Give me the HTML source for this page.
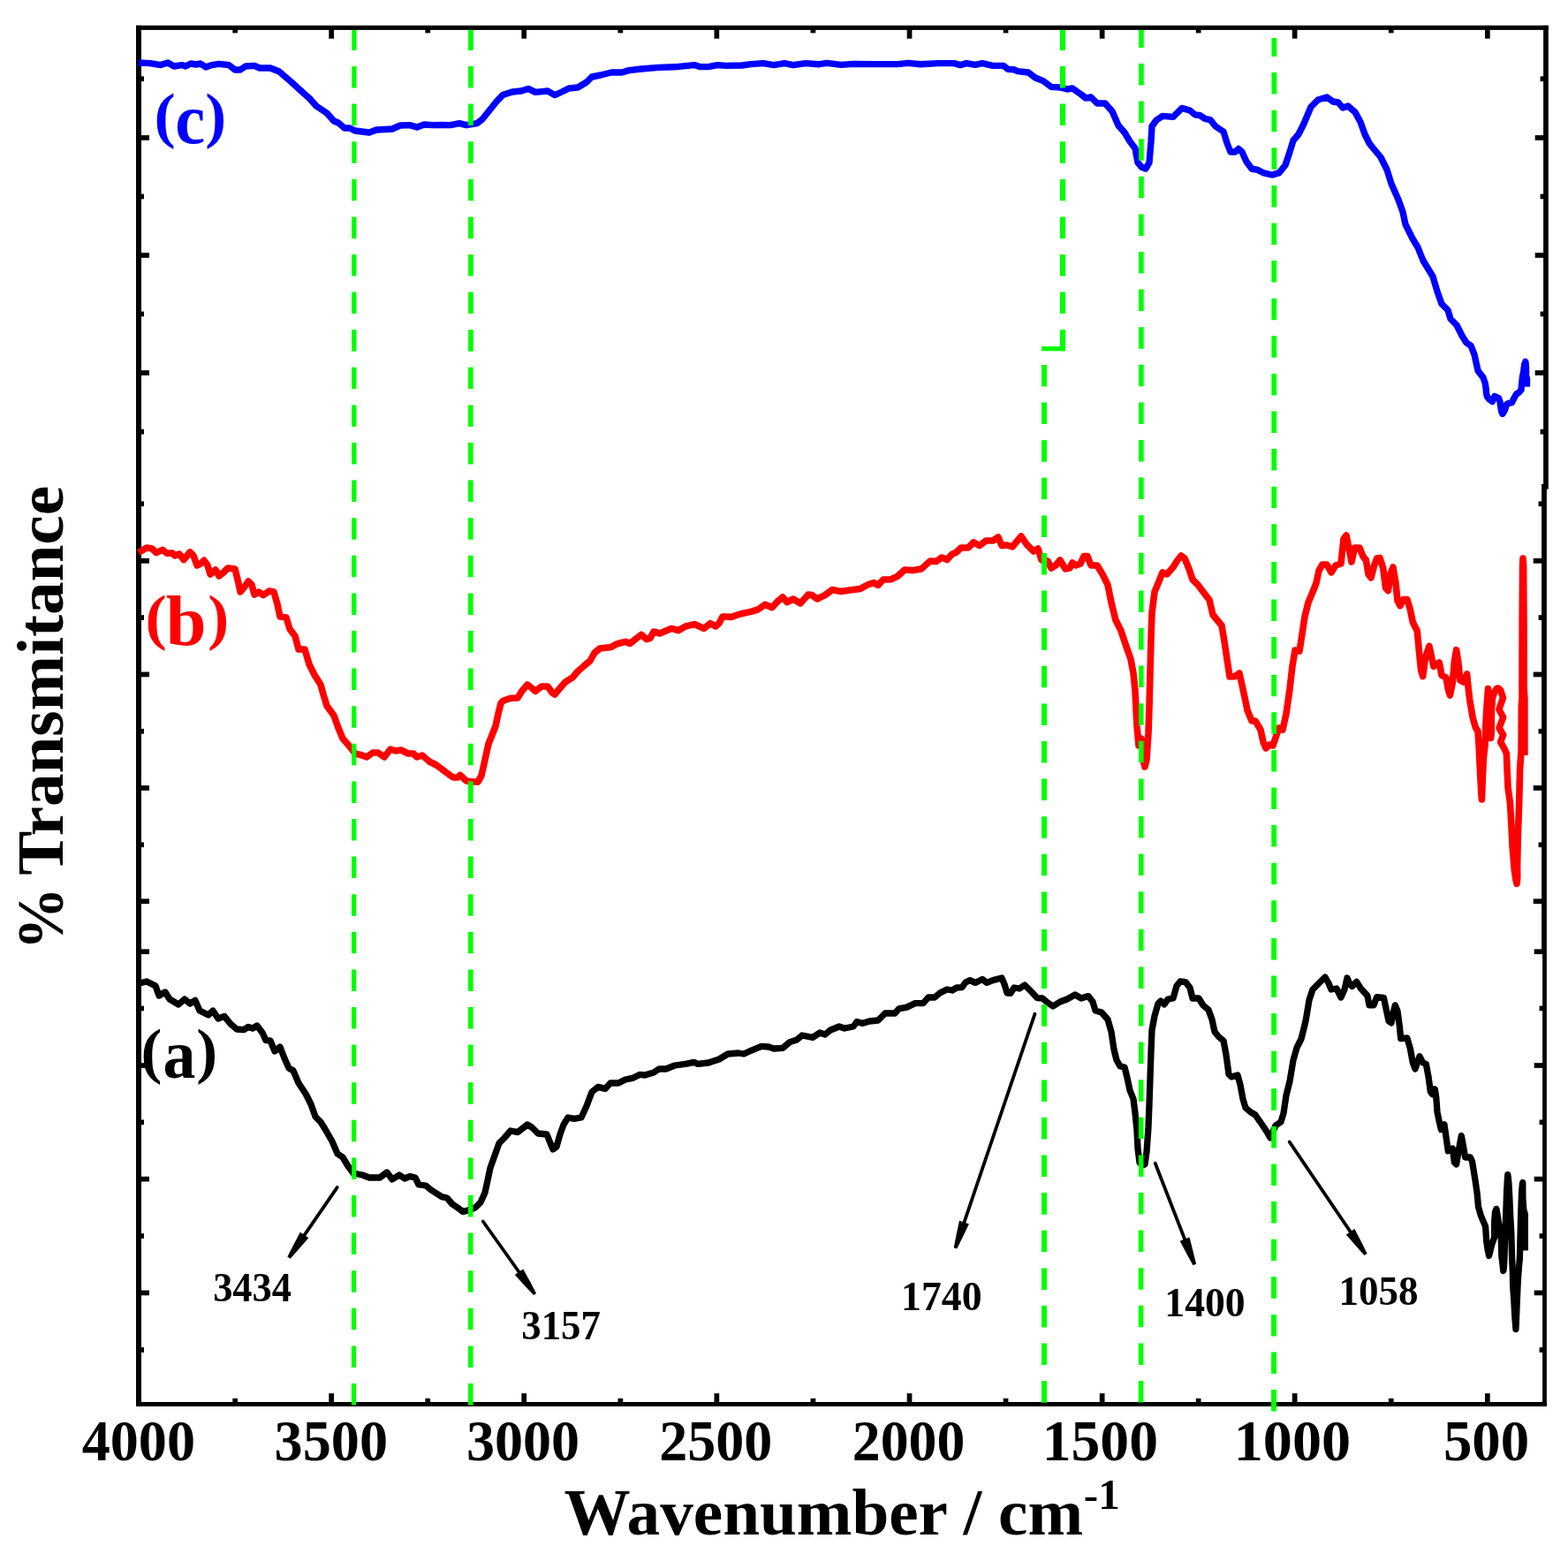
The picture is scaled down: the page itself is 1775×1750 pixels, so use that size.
<!DOCTYPE html>
<html lang="en"><head><meta charset="utf-8"><title>FTIR spectra</title>
<style>html,body{margin:0;padding:0;background:#fff}body{width:1775px;height:1750px;overflow:hidden}svg{display:block}text{font-family:"Liberation Serif","DejaVu Serif",serif;font-weight:bold}</style></head><body>
<svg width="1775" height="1750" viewBox="0 0 1775 1750">
<rect x="0" y="0" width="1775" height="1750" fill="#fff"/>
<g id="frame" fill="#000">
<rect x="154" y="28.8" width="6" height="1563.2"/>
<rect x="154" y="28.8" width="1598.8" height="5.1"/>
<rect x="154" y="1587" width="1596.9" height="5"/>
<rect x="1747.1" y="28.8" width="5.7" height="524.9"/>
<rect x="1745.1" y="548" width="5.8" height="527"/>
<rect x="1746.1" y="1075" width="4.8" height="517"/>
</g>
<g id="ticks" fill="#000">
<rect x="372.3" y="32.9" width="5.7" height="10.8"/>
<rect x="372.3" y="1577.2" width="5.7" height="10.8"/>
<rect x="590.4" y="32.9" width="5.7" height="10.8"/>
<rect x="590.4" y="1577.2" width="5.7" height="10.8"/>
<rect x="808.5" y="32.9" width="5.7" height="10.8"/>
<rect x="808.5" y="1577.2" width="5.7" height="10.8"/>
<rect x="1026.7" y="32.9" width="5.7" height="10.8"/>
<rect x="1026.7" y="1577.2" width="5.7" height="10.8"/>
<rect x="1244.8" y="32.9" width="5.7" height="10.8"/>
<rect x="1244.8" y="1577.2" width="5.7" height="10.8"/>
<rect x="1462.8" y="32.9" width="5.7" height="10.8"/>
<rect x="1462.8" y="1577.2" width="5.7" height="10.8"/>
<rect x="1681" y="32.9" width="5.7" height="10.8"/>
<rect x="1681" y="1577.2" width="5.7" height="10.8"/>
<rect x="263.3" y="32.9" width="5.7" height="4.5"/>
<rect x="263.3" y="1582.9" width="5.7" height="5.1"/>
<rect x="481.4" y="32.9" width="5.7" height="4.5"/>
<rect x="481.4" y="1582.9" width="5.7" height="5.1"/>
<rect x="699.5" y="32.9" width="5.7" height="4.5"/>
<rect x="699.5" y="1582.9" width="5.7" height="5.1"/>
<rect x="917.6" y="32.9" width="5.7" height="4.5"/>
<rect x="917.6" y="1582.9" width="5.7" height="5.1"/>
<rect x="1135.7" y="32.9" width="5.7" height="4.5"/>
<rect x="1135.7" y="1582.9" width="5.7" height="5.1"/>
<rect x="1353.8" y="32.9" width="5.7" height="4.5"/>
<rect x="1353.8" y="1582.9" width="5.7" height="5.1"/>
<rect x="1571.9" y="32.9" width="5.7" height="4.5"/>
<rect x="1571.9" y="1582.9" width="5.7" height="5.1"/>
<rect x="159" y="153.1" width="10" height="5.7"/>
<rect x="1737.7" y="153.1" width="10.4" height="5.7"/>
<rect x="159" y="286.1" width="10" height="5.7"/>
<rect x="1737.7" y="286.1" width="10.4" height="5.7"/>
<rect x="159" y="419.2" width="10" height="5.7"/>
<rect x="1737.7" y="419.2" width="10.4" height="5.7"/>
<rect x="159" y="632" width="10" height="5.7"/>
<rect x="1735.7" y="632" width="10.4" height="5.7"/>
<rect x="159" y="760.6" width="10" height="5.7"/>
<rect x="1735.7" y="760.6" width="10.4" height="5.7"/>
<rect x="159" y="889.1" width="10" height="5.7"/>
<rect x="1735.7" y="889.1" width="10.4" height="5.7"/>
<rect x="159" y="1017.4" width="10" height="5.7"/>
<rect x="1735.7" y="1017.4" width="10.4" height="5.7"/>
<rect x="159" y="1074.4" width="10" height="5.7"/>
<rect x="1736.7" y="1074.4" width="10.4" height="5.7"/>
<rect x="159" y="1203.2" width="10" height="5.7"/>
<rect x="1736.7" y="1203.2" width="10.4" height="5.7"/>
<rect x="159" y="1331.8" width="10" height="5.7"/>
<rect x="1736.7" y="1331.8" width="10.4" height="5.7"/>
<rect x="159" y="1460.6" width="10" height="5.7"/>
<rect x="1736.7" y="1460.6" width="10.4" height="5.7"/>
<rect x="159" y="86.4" width="4" height="5.7"/>
<rect x="1743.6" y="86.4" width="4.5" height="5.7"/>
<rect x="159" y="219.6" width="4" height="5.7"/>
<rect x="1743.6" y="219.6" width="4.5" height="5.7"/>
<rect x="159" y="352.6" width="4" height="5.7"/>
<rect x="1743.6" y="352.6" width="4.5" height="5.7"/>
<rect x="159" y="485.9" width="4" height="5.7"/>
<rect x="1743.6" y="485.9" width="4.5" height="5.7"/>
<rect x="159" y="567.5" width="4" height="5.7"/>
<rect x="1741.6" y="567.5" width="4.5" height="5.7"/>
<rect x="159" y="696.2" width="4" height="5.7"/>
<rect x="1741.6" y="696.2" width="4.5" height="5.7"/>
<rect x="159" y="824.9" width="4" height="5.7"/>
<rect x="1741.6" y="824.9" width="4.5" height="5.7"/>
<rect x="159" y="953.4" width="4" height="5.7"/>
<rect x="1741.6" y="953.4" width="4.5" height="5.7"/>
<rect x="159" y="1138.6" width="4" height="5.7"/>
<rect x="1742.6" y="1138.6" width="4.5" height="5.7"/>
<rect x="159" y="1267.5" width="4" height="5.7"/>
<rect x="1742.6" y="1267.5" width="4.5" height="5.7"/>
<rect x="159" y="1396.2" width="4" height="5.7"/>
<rect x="1742.6" y="1396.2" width="4.5" height="5.7"/>
<rect x="159" y="1525.2" width="4" height="5.7"/>
<rect x="1742.6" y="1525.2" width="4.5" height="5.7"/>
</g>
<g id="curves">
<polyline points="156.9,71 170,71.6 182,73.6 190,71 197,75 206,73.6 210,75 216,72 222,73 227,72 233,76 240,73.6 248,72.4 259,73.6 266,79 272,79 278,75 288,74.4 294,77 306,77 316,81 330,93 342,104 350,111 358,120 370,128 378,137 383,139 390,145 396,145 402,148 418,150 426,147 444,146 453,142 464,141.6 472,144 480,141 490,141.6 500,141.4 510,141.6 520,139.6 528,141.6 540,139.6 546,135 554,125 562,115 569,107.6 580,104 590,103 598,100.4 606,104.4 620,103 628,107.6 636,104 644,100 654,99 664,93 670,87 680,85 692,82 704,82 712,79.6 726,78 746,76.4 766,75.6 786,73.6 792,75.6 802,75.6 812,73.6 822,74.4 840,74 850,72.6 864,71.6 876,73.6 888,71.6 898,73.6 912,71.6 926,72.8 936,71.4 952,73.4 966,72.4 990,72.6 1016,72.6 1028,71.4 1042,72.8 1062,71.6 1080,71.6 1087,73.6 1094,71.6 1104,73.4 1112,71.6 1124,74.4 1136,74.4 1141,78.4 1148,78.8 1152,80.6 1164,82 1172,88 1181,91.6 1190,98.4 1200,99 1208,101 1214,100 1224,107 1229,111 1235,110 1242,117 1251,117 1259,126 1266,142 1273,150 1279,160 1285,168 1288,184 1292,189 1297,191 1301,184 1303,160 1304,143 1309,136 1316,131.4 1328,132.4 1338,122.4 1347,125 1353,130 1358,130.4 1364,134.4 1370,135.6 1376,143 1385,149 1389,162 1393,172 1398,172 1402,168.4 1406,172 1411,183 1417,191 1424,192.4 1430,195.6 1440,198 1448,195.6 1455,187 1460,172 1464,159 1470,152 1476,140 1484,121 1492,113 1502,110 1509,115 1515,116 1520,122 1526,120 1534,127 1540,138 1545,152 1550,162 1553,166 1563,178 1570,192 1575,208 1583,226 1588,240 1591,254 1599,270 1605,280 1611,295 1622,313 1627,330 1632,344 1639,351 1642,361 1649,368 1655,380 1660,388 1665.1,391.4 1669.1,401.7 1671.1,411.1 1673.1,419.7 1676.6,424.3 1678.9,427.1 1681.1,433.4 1682,438.6 1682.6,445.4 1683.7,449.4 1685.7,451.7 1689.4,454.5 1692,448.6 1696.6,450.6 1698,454.6 1698.9,460.9 1699.7,466 1700.9,468.5 1703.4,464.3 1705.7,457.4 1708.6,456.3 1711.4,455.7 1714.3,450 1716.6,446 1719.4,444.3 1722,441.4 1722.6,434.6 1723.4,427.1 1724.6,421.1 1725.7,412.3 1726.9,409.4 1727.5,415 1727.6,427 1728.5,428 1728.5,437.8" fill="none" stroke="#0000ff" stroke-width="7.4" stroke-linejoin="round" stroke-linecap="butt"/>
<polyline points="156.9,625.5 166,620 172,621 177,625.6 184,622.4 189,626.4 195,626 198,629 203,627 208,633.6 215,625 219,629 223,640 227,638 231,634.4 235,640 238,650 244,645 248,652 253,648 258,643 266,644 270,660 272,670 277,664 281,658 285,662 288,673 293,670 298,673.6 305,669 310,670 314,684 317,698 324,699 328,712 334,720 338,735 345,735 350,752 356,764 363,775 366,786 370,799 378,810 383,824 388,836 395,844 402,853 410,855 415,857 422,852 428,852 435,857 442,848 448,850 454,849 462,853 468,853 472,857 478,855 486,862 494,866 500,870.5 506,875 513,880 518,880 521,877.4 528,884 535,885 541,885 545,878 549,860 553,842 557,832 561,822 564,808 567,796 570,793 578,790.4 586,790 591,782 597,775 601,778 606,782.4 613,777 620,777 625,784 628,786 633,780 640,772 648,767 654,760 662,753 668,748 673,739 679,734 692,732.4 698,729 708,726.4 713,728.4 720,723 726,718.4 732,723.6 736,722.4 740,715 747,717 760,711.4 768,713.6 776,709 786,706.6 797,711.4 804,705.6 810,709 814,705.6 818,698 828,698.4 838,695 850,692.4 858,690 866,684.4 874,687.6 880,681 886,676 891,681.6 898,678 906,683 915,673 919,673.6 925,678 934,673.6 942,667.6 952,669.6 962,668 974,666.4 982,662 989,659.6 994,662.4 1000,656 1008,656 1016,652.4 1024,645 1034,645.6 1043,644 1053,635 1060,635.6 1066,631 1072,633.6 1078,627 1082,625.6 1088,620 1096,620 1102,614 1109,617.6 1116,612 1124,612 1130,608 1134,617.6 1140,617 1146,619 1151,613 1156,607 1162,616 1170,624 1175,621 1179,634 1186,635 1190,643 1195,640 1200,634 1206,644 1211,643 1214,637 1218,640 1223,638 1227,629.6 1231,629.6 1235,640 1242,640 1248,650 1254,662 1258,682 1263,702 1269,714 1275,732 1280,746 1283,762 1285,782 1286,802 1287,822 1289,844 1292,836 1294,860 1296,868 1298,860 1300,830 1301,800 1302,762 1303,722 1304,694 1307,670 1312,658 1316,648 1321,650 1328,642 1333,634 1337,629 1341,632 1346,644 1350,656 1356,662 1362,670 1369,679 1373,696 1383,708 1386,726 1389,746 1392,766 1398,765.6 1403,762 1407,780 1410,794 1412,804 1417,816 1421,816 1427,826 1430,840 1433,847 1437,843 1441,844 1445,832 1448,824 1452,826 1456,808 1460,780 1463,754 1466,736 1471,737 1474,718 1477,698 1481,682 1486,670 1490,660 1493,646 1497,639 1502,639 1507,648 1512,640 1518,638 1521,610 1524,606 1527,620 1530,636 1533.6,620 1539,620 1543,630 1546.4,634 1549,650 1552,654 1555.7,640 1558.6,632 1562,631.4 1565.7,643 1568.6,665.7 1571.4,668.6 1574.3,648.6 1577,642 1580,660 1582,680 1585,685.7 1588.6,678.6 1593,678.6 1596.4,690 1599.3,704.3 1604.3,714.3 1606.4,737 1608.6,758.6 1610.7,765.7 1613.6,744.3 1617.9,731.4 1620.7,744.3 1622.9,754.3 1629.3,750 1632,764.3 1637,767 1639.3,780 1641.4,787 1644.3,772.9 1646.4,748.6 1648.6,735.7 1650.7,748.6 1652.9,770 1656.4,772 1660.7,763 1661.8,775.8 1663.7,791.8 1667.3,813 1670.5,823.9 1673,827.7 1674.2,846 1675.2,866.6 1676.2,886 1677.2,903.5 1677.4,905 1677.6,900.6 1678.5,876 1679.5,857 1681,843.8 1682,818 1683,800.5 1684.2,784 1684.6,779.5 1685.5,790 1686.3,810 1687,830 1687.6,835.5 1688.2,830 1688.4,803 1689.5,790 1691.5,784 1694,779.5 1696,779 1698.5,781 1701.5,790 1696.9,803 1701.7,812 1697.1,824 1701.7,832 1698.6,840 1702.2,846 1705.4,853 1706.1,871.5 1707.1,891.9 1709.4,908.4 1710.1,920 1710.7,930 1712.1,958.6 1714.3,985 1716,996 1717.1,1000.3 1717.7,994 1717.6,980 1718.2,951 1719.7,908.6 1720.6,870 1722.1,850 1722.3,800 1723,790 1723.2,700 1723.6,640 1724,632 1724.6,640 1725,700 1725.2,780 1725.9,790 1725.9,855" fill="none" stroke="#ff0000" stroke-width="7.6" stroke-linejoin="round" stroke-linecap="butt"/>
<polyline points="156.9,1113.3 166,1111 176,1116 180,1127 187,1123 192,1131 202,1137 209,1131 215,1136 221,1132.4 226,1144 236,1149 241,1144 247,1153 254,1150.4 261,1159 268,1165 276,1165.6 281,1162.4 286,1164 291,1161 297,1169 301,1177.6 306,1178 311,1190 317,1185 322,1198 327,1209 332,1212 338,1226 346,1238 352,1250 357,1264 363,1270 368,1278 376,1292 382,1306 388,1310 394,1320 400,1328 410,1330 418,1333 430,1333 438,1327 444,1335 452,1330 458,1334 464,1331.6 470,1333 474,1341 482,1342 488,1347 500,1354.6 506,1356 512,1363 518,1367 524,1371.6 530,1370 538,1367 544,1361 549,1350 552,1336 555,1322 560,1308 565,1294 571,1288 578,1280 586,1281.6 597,1273 602,1276 609,1283 619,1284 623,1294 626,1301 630,1298 634,1284 638,1273 643,1265 650,1266.4 658,1265 664,1252 670,1236 677,1230.4 685,1232.4 691,1226 700,1226 708,1222 716,1220.4 724,1216.4 730,1217 740,1214 746,1210 754,1210 764,1206 776,1204.4 786,1202.4 790,1204.4 802,1203 814,1199 824,1193 836,1192 842,1193 850,1189.3 862,1184.4 870,1185 876,1187 886,1186.4 894,1179.6 902,1177 908,1172 920,1174.4 928,1169 934,1171 940,1166 950,1162 956,1164 966,1162 970,1156.4 976,1158.4 984,1156 994,1155 1002,1147 1013,1147 1018,1141.6 1026,1140.4 1036,1135.6 1045,1135.6 1051,1129 1058,1129 1064,1124 1072,1120 1078,1121 1083,1118 1089,1117.6 1093,1112 1098,1109.6 1104,1112.4 1112,1108.4 1117,1112.4 1124,1109.6 1134,1107 1137,1114 1140,1124 1144,1124.4 1148,1118 1154,1119 1160,1115 1168,1123 1174,1129.6 1180,1130 1186,1135 1192,1139 1200,1134 1208,1131 1217,1126 1224,1130 1232,1127.6 1237,1134 1240,1144 1247,1146 1254,1154 1258,1168 1261,1188 1264,1200 1268,1207 1273,1208 1276,1220 1279,1234 1283,1244 1285,1260 1287,1280 1288,1300 1290,1316 1293,1319 1296,1318 1298,1304 1300,1276 1301,1250 1302,1220 1303,1190 1304,1166 1307,1150 1311,1136 1314,1133 1318,1137 1322,1131 1328,1130 1332,1116 1336,1111 1342,1111.6 1347,1118 1350,1130 1357,1130 1362,1138 1368,1143 1372,1154 1375,1168 1380,1174 1385,1178 1388,1194 1391,1216 1394,1219 1401,1217 1404,1228 1407,1244 1410,1254 1416,1259 1421,1262 1428,1272 1434,1281 1438,1288 1444,1274 1450,1270 1453,1260 1456,1240 1460,1224 1464,1200 1468,1186 1473,1176 1478,1156 1482,1132 1486,1120 1492,1114 1500,1106 1504,1113 1507,1120 1513,1119 1518,1129 1522,1120 1525,1107 1528,1114 1530.7,1116.4 1535.7,1111.4 1540.7,1119.3 1547.9,1127 1550,1137.9 1555,1137.9 1558.6,1128.6 1566.4,1129.3 1569.3,1142.9 1572,1155.7 1575,1157.9 1577,1147 1579.3,1137.9 1582,1144.3 1584.3,1161.4 1585.7,1175.7 1592.9,1175 1596.4,1187 1599.3,1202.9 1602,1210 1605,1201.4 1607,1195.7 1610.7,1202.9 1614.3,1204.3 1617,1218.6 1619.3,1235.7 1621.4,1238.6 1624.3,1232.9 1625.7,1241.4 1627,1258.6 1629.3,1270 1631.4,1278.6 1635,1272.9 1637,1287 1639.3,1302.9 1644.3,1300 1646.4,1315.7 1648.6,1317.9 1651.4,1301.4 1654.3,1285.7 1656.4,1297 1658.6,1310 1664.3,1310 1666.5,1314.6 1668.3,1325.3 1670.7,1340.8 1672.2,1351.5 1673.5,1366.1 1676.3,1375.8 1678.3,1380.7 1681.6,1388.4 1682.7,1405 1684,1413.7 1685.6,1421.5 1686.8,1416.6 1689,1408 1691.5,1401 1691.7,1382.6 1692.5,1372 1693.9,1368.4 1694.7,1372.9 1696.7,1385.5 1699.3,1403 1699.8,1421.5 1701.3,1434 1701.8,1438.5 1702.3,1436 1703,1424.4 1703.5,1406 1704.2,1385.5 1704.7,1375.8 1705.6,1348.6 1706.5,1333 1706.8,1329.7 1707.3,1333 1707.9,1338.9 1708.8,1355.4 1709.8,1377.7 1710.8,1395.2 1711.5,1421.5 1712.4,1440.9 1712.7,1456.5 1713.7,1470 1714.8,1490 1715.7,1502 1715.9,1504.5 1716.4,1495 1717.4,1470 1718.3,1450 1719.4,1435 1720.3,1425 1720.7,1411.8 1721.7,1372.9 1722.6,1348.6 1723.4,1340 1723.8,1338.5 1723.9,1356.4 1724.9,1370 1726.3,1373.9 1726.3,1415.6" fill="none" stroke="#000000" stroke-width="7.3" stroke-linejoin="round" stroke-linecap="butt"/>
</g>
<g id="guides" fill="none" stroke="#00ff00">
<path d="M400.9 33.9V56.9M400.9 75V99.5M400.9 117.6V142.1M400.9 160.2V184.7M400.9 202.8V227.3M400.8 245.4V269.9M400.8 288V312.5M400.8 330.6V355.1M400.8 373.2V397.7M400.8 415.8V440.3M400.8 458.4V482.9M400.8 501V525.5M400.8 543.6V568.1M400.8 586.2V610.7M400.7 628.8V653.3M400.7 671.4V695.9M400.7 714V738.5M400.7 756.6V781.1M400.7 799.2V823.7M400.7 841.8V866.3M400.7 884.4V908.9M400.7 927V951.5M400.7 969.6V994.1M400.6 1012.2V1036.7M400.6 1054.8V1079.3M400.6 1097.4V1121.9M400.6 1140V1164.5M400.6 1182.6V1207.1M400.6 1225.2V1249.7M400.6 1267.8V1292.3M400.6 1310.4V1334.9M400.6 1353V1377.5M400.5 1395.6V1420.1M400.5 1438.2V1462.7M400.5 1480.8V1505.3M400.5 1523.4V1547.9M400.5 1566V1590.5" stroke-width="5.2"/>
<path d="M532.9 33.9V56.9M532.9 75V99.5M532.9 117.6V142.1M532.9 160.2V184.7M532.9 202.8V227.3M532.9 245.4V269.9M532.9 288V312.5M532.9 330.6V355.1M532.9 373.2V397.7M532.8 415.8V440.3M532.8 458.4V482.9M532.8 501V525.5M532.8 543.6V568.1M532.8 586.2V610.7M532.8 628.8V653.3M532.8 671.4V695.9M532.8 714V738.5M532.8 756.6V781.1M532.8 799.2V823.7M532.8 841.8V866.3M532.8 884.4V908.9M532.8 927V951.5M532.8 969.6V994.1M532.8 1012.2V1036.7M532.8 1054.8V1079.3M532.8 1097.4V1121.9M532.8 1140V1164.5M532.8 1182.6V1207.1M532.7 1225.2V1249.7M532.7 1267.8V1292.3M532.7 1310.4V1334.9M532.7 1353V1377.5M532.7 1395.6V1420.1M532.7 1438.2V1462.7M532.7 1480.8V1505.3M532.7 1523.4V1547.9M532.7 1566V1590.5" stroke-width="5.6"/>
<path d="M1203 33.9V56.9M1203 75V99.5M1203 117.6V142.1M1203 160.2V184.7M1203 202.8V227.3M1203 245.4V269.9M1203 288V312.5M1203 330.6V355.1M1203 373.2V397.2" stroke-width="6"/>
<path d="M1182 413V437.5M1182 455.6V480.1M1182 498.2V522.7M1182 540.8V565.3M1182 583.4V607.9M1182 626V650.5M1182 668.6V693.1M1182 711.2V735.7M1182 753.8V778.3M1182 796.4V820.9M1182 839V863.5M1182 881.6V906.1M1182 924.2V948.7M1182 966.8V991.3M1182 1009.4V1033.9M1182 1052V1076.5M1182 1094.6V1119.1M1182 1137.2V1161.7M1182 1179.8V1204.3M1182 1222.4V1246.9M1182 1265V1289.5M1182 1307.6V1332.1M1182 1350.2V1374.7M1182 1392.8V1417.3M1182 1435.4V1459.9M1182 1478V1502.5M1182 1520.6V1545.1M1182 1563.2V1587.7" stroke-width="6"/>
<path d="M1292 33.9V53.9M1292 72V96.5M1292 114.6V139.1M1292 157.2V181.7M1292 199.8V224.3M1291.9 242.4V266.9M1291.9 285V309.5M1291.9 327.6V352.1M1291.9 370.2V394.7M1291.9 412.8V437.3M1291.9 455.4V479.9M1291.9 498V522.5M1291.9 540.6V565.1M1291.9 583.2V607.7M1291.8 625.8V650.3M1291.8 668.4V692.9M1291.8 711V735.5M1291.8 753.6V778.1M1291.8 796.2V820.7M1291.8 838.8V863.3M1291.8 881.4V905.9M1291.8 924V948.5M1291.8 966.6V991.1M1291.7 1009.2V1033.7M1291.7 1051.8V1076.3M1291.7 1094.4V1118.9M1291.7 1137V1161.5M1291.7 1179.6V1204.1M1291.7 1222.2V1246.7M1291.7 1264.8V1289.3M1291.7 1307.4V1331.9M1291.7 1350V1374.5M1291.6 1392.6V1417.1M1291.6 1435.2V1459.7M1291.6 1477.8V1502.3M1291.6 1520.4V1544.9M1291.6 1563V1587.5" stroke-width="5.6"/>
<path d="M1442.4 43V64M1442.4 82.1V106.6M1442.4 124.7V149.2M1442.4 167.3V191.8M1442.4 209.9V234.4M1442.3 252.5V277M1442.3 295.1V319.6M1442.3 337.7V362.2M1442.3 380.3V404.8M1442.3 422.9V447.4M1442.3 465.5V490M1442.3 508.1V532.6M1442.3 550.7V575.2M1442.3 593.3V617.8M1442.2 635.9V660.4M1442.2 678.5V703M1442.2 721.1V745.6M1442.2 763.7V788.2M1442.2 806.3V830.8M1442.2 848.9V873.4M1442.2 891.5V916M1442.2 934.1V958.6M1442.2 976.7V1001.2M1442.1 1019.3V1043.8M1442.1 1061.9V1086.4M1442.1 1104.5V1129M1442.1 1147.1V1171.6M1442.1 1189.7V1214.2M1442.1 1232.3V1256.8M1442.1 1274.9V1299.4M1442.1 1317.5V1342M1442.1 1360.1V1384.6M1442 1402.7V1427.2M1442 1445.3V1469.8M1442 1487.9V1512.4M1442 1530.5V1555M1442 1573.1V1597.6" stroke-width="5.8"/>
<path d="M1179 394.7H1206" stroke-width="5.2"/>
</g>
<g id="arrows" fill="#000" stroke="#000">
<path d="M381.7 1344.1L342.3 1401.4" stroke-width="3.8" stroke-linecap="round" fill="none"/>
<path d="M325.4 1422.5L331.8 1410L339.8 1394.8L349.3 1401.3L338 1414.2L328.6 1424.7Z" stroke="none"/>
<path d="M546.7 1382.5L589.8 1443" stroke-width="3.8" stroke-linecap="round" fill="none"/>
<path d="M604 1466.1L594.3 1455.8L582.8 1443.1L592.2 1436.4L600.5 1451.5L607 1463.9Z" stroke="none"/>
<path d="M1171.4 1147.8L1090.2 1387.4" stroke-width="3.8" stroke-linecap="round" fill="none"/>
<path d="M1079.7 1412.4L1082.4 1398.6L1086 1381.8L1096.9 1385.5L1089.5 1401L1083.3 1413.6Z" stroke="none"/>
<path d="M1307.7 1316.8L1342.5 1406.3" stroke-width="3.8" stroke-linecap="round" fill="none"/>
<path d="M1350.5 1432.2L1343.7 1419.9L1335.7 1404.7L1346.5 1400.5L1350.7 1417.1L1354.1 1430.8Z" stroke="none"/>
<path d="M1459.7 1292.6L1530.9 1397.6" stroke-width="3.8" stroke-linecap="round" fill="none"/>
<path d="M1544.4 1421.1L1535.1 1410.6L1523.8 1397.6L1533.4 1391.1L1541.3 1406.3L1547.6 1418.9Z" stroke="none"/>
</g>
<g id="labels">
<text id="t4000" x="92.7" y="1652.9" font-size="65" textLength="128.31" lengthAdjust="spacingAndGlyphs">4000</text>
<text id="t3500" x="310.59" y="1652.9" font-size="65" textLength="128.52" lengthAdjust="spacingAndGlyphs">3500</text>
<text id="t3000" x="527.9" y="1652.9" font-size="65" textLength="128.21" lengthAdjust="spacingAndGlyphs">3000</text>
<text id="t2500" x="746.28" y="1652.9" font-size="65" textLength="128.12" lengthAdjust="spacingAndGlyphs">2500</text>
<text id="t2000" x="964.79" y="1652.9" font-size="65" textLength="127.6" lengthAdjust="spacingAndGlyphs">2000</text>
<text id="t1500" x="1179.75" y="1652.9" font-size="65" textLength="131.21" lengthAdjust="spacingAndGlyphs">1500</text>
<text id="t1000" x="1396.7" y="1652.9" font-size="65" textLength="132.38" lengthAdjust="spacingAndGlyphs">1000</text>
<text id="t500" x="1633.9" y="1652.9" font-size="65" textLength="97.33" lengthAdjust="spacingAndGlyphs">500</text>
<text id="p3434" x="241.13" y="1472.6" font-size="45.4" textLength="88.84" lengthAdjust="spacingAndGlyphs">3434</text>
<text id="p3157" x="590.32" y="1516" font-size="45.4" textLength="89.5" lengthAdjust="spacingAndGlyphs">3157</text>
<text id="p1740" x="1020.14" y="1483.1" font-size="45.4" textLength="91.47" lengthAdjust="spacingAndGlyphs">1740</text>
<text id="p1400" x="1318.35" y="1489.8" font-size="45.4" textLength="91.37" lengthAdjust="spacingAndGlyphs">1400</text>
<text id="p1058" x="1515.4" y="1476.8" font-size="45.4" textLength="90.07" lengthAdjust="spacingAndGlyphs">1058</text>
<text id="xt" x="638.57" y="1736.9" font-size="73.8" textLength="587.52" lengthAdjust="spacingAndGlyphs">Wavenumber / cm</text>
<text id="xs" x="1226.86" y="1708.3" font-size="47.7" textLength="40.95" lengthAdjust="spacingAndGlyphs">-1</text>
<text id="yt" transform="translate(71 1080) rotate(-90)"><tspan id="yt1" x="4.72" y="0" font-size="74.5" textLength="71.03" lengthAdjust="spacingAndGlyphs">%</tspan> <tspan id="yt2" x="89.17" y="0" font-size="74.5" textLength="440.87" lengthAdjust="spacingAndGlyphs">Transmitance</tspan></text>
<text id="lc" fill="#0000ff"><tspan id="lc0" x="174.44" y="154.22" font-size="69.53" textLength="24.16" lengthAdjust="spacingAndGlyphs">(</tspan><tspan id="lc1" x="198.13" y="162.4" font-size="80" textLength="33.9" lengthAdjust="spacingAndGlyphs">c</tspan><tspan id="lc2" x="232.37" y="154.22" font-size="69.53" textLength="23.92" lengthAdjust="spacingAndGlyphs">)</tspan></text>
<text id="lb" fill="#ff0000"><tspan id="lb0" x="164.44" y="722.35" font-size="69.86" textLength="24.16" lengthAdjust="spacingAndGlyphs">(</tspan><tspan id="lb1" x="187.87" y="730.19" font-size="81.13" textLength="45.82" lengthAdjust="spacingAndGlyphs">b</tspan><tspan id="lb2" x="235.37" y="722.35" font-size="69.86" textLength="23.92" lengthAdjust="spacingAndGlyphs">)</tspan></text>
<text id="la" fill="#000000"><tspan id="la0" x="159.57" y="1213.2" font-size="69.64" textLength="23.9" lengthAdjust="spacingAndGlyphs">(</tspan><tspan id="la1" x="184.4" y="1220.32" font-size="77.5" textLength="36.91" lengthAdjust="spacingAndGlyphs">a</tspan><tspan id="la2" x="222.37" y="1213.2" font-size="69.64" textLength="23.92" lengthAdjust="spacingAndGlyphs">)</tspan></text>
</g>
</svg></body></html>
